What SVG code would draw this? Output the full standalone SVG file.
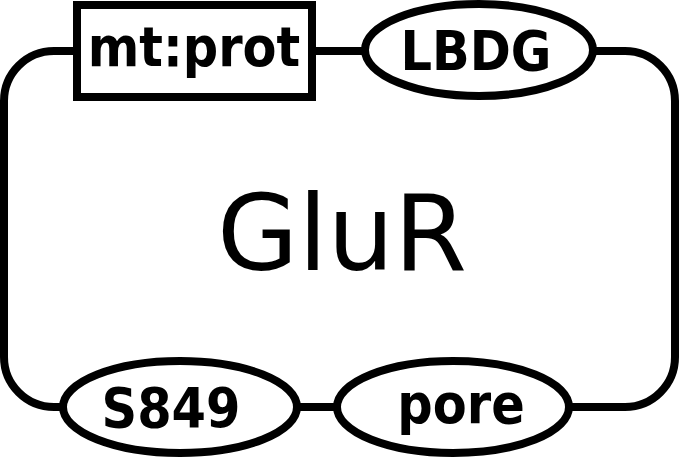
<svg xmlns="http://www.w3.org/2000/svg" width="680" height="460" viewBox="0 0 680 460">
<style>
.sh{fill:#fff;stroke:#000;stroke-width:8}
.ln{fill:none;stroke:#000;stroke-width:8}
.lb{font-family:"DejaVu Sans Condensed","DejaVu Sans",sans-serif;font-weight:bold;font-size:55px;text-anchor:middle;fill:#000}
.big{font-family:"DejaVu Sans",sans-serif;font-size:105px;text-anchor:middle;fill:#000}
</style>
<rect width="680" height="460" fill="#fff"/>
<g id="connectors">
<path class="ln" d="M77,51 H54 A50,50 0 0 0 4,101 V357 A50,50 0 0 0 54,407 H66"/>
<path class="ln" d="M312,51 H368"/>
<path class="ln" d="M590,51 H625 A50,50 0 0 1 675,101 V357 A50,50 0 0 1 625,407 H566"/>
<path class="ln" d="M294,407 H340"/>
</g>
<g id="GluR"><text class="big" x="342" y="270">GluR</text></g>
<g id="mtprot"><rect class="sh" x="77" y="5" width="235" height="92"/><text class="lb" x="194" y="66">mt:prot</text></g>
<g id="LBDG"><ellipse class="sh" cx="479" cy="50" rx="114" ry="46"/><text class="lb" x="476" y="70">LBDG</text></g>
<g id="S849"><ellipse class="sh" cx="180" cy="407" rx="117" ry="46"/><text class="lb" x="171" y="427">S849</text></g>
<g id="pore"><ellipse class="sh" cx="453" cy="407" rx="116" ry="46"/><text class="lb" x="461" y="423">pore</text></g>
</svg>
